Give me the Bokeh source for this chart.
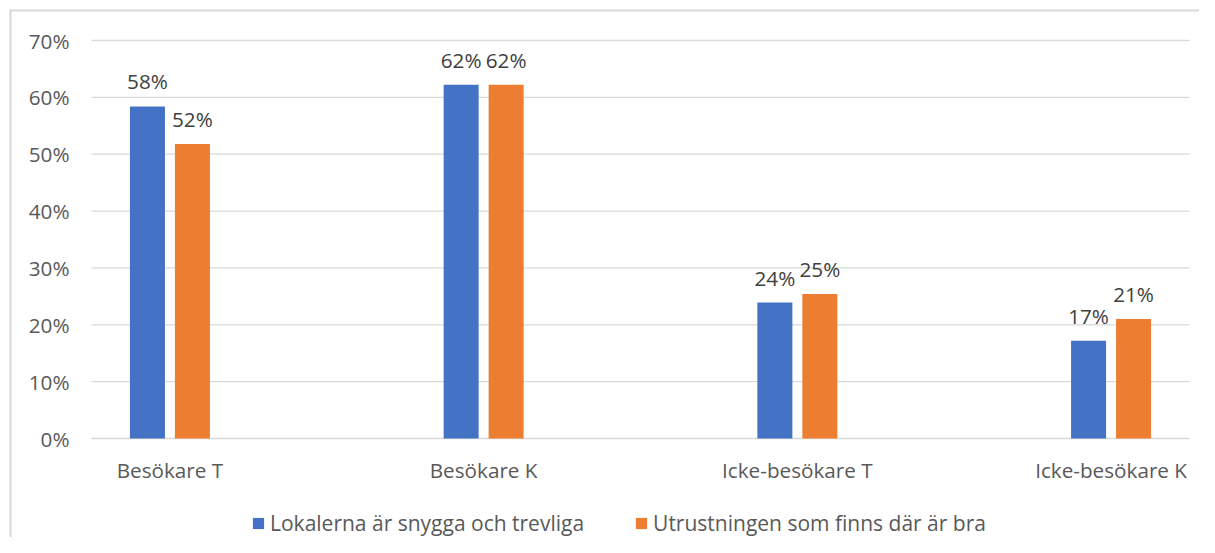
from bokeh.plotting import figure
from bokeh.models import (ColumnDataSource, Range1d, Legend, LegendItem, LabelSet, BoxAnnotation)
from bokeh.core.properties import value
from bokeh.embed import file_html
from bokeh.resources import INLINE

categories = ["Besökare T", "Besökare K", "Icke-besökare T", "Icke-besökare K"]
series_names = ["Lokalerna är snygga och trevliga", "Utrustningen som finns där är bra"]
lokalerna = [58.4, 62.2, 23.9, 17.2]
utrustningen = [51.8, 62.2, 25.4, 21.0]
y_ticks = [0, 10, 20, 30, 40, 50, 60, 70]
y_tick_labels = ["0%", "10%", "20%", "30%", "40%", "50%", "60%", "70%"]

FONT = "Open Sans"
FS = "20.7px"
BLUE = "#4472C4"
ORANGE = "#ED7D31"
GRID = "#D9D9D9"
TXT = "#595959"

# canvas and plot-area geometry (pixels)
W, H = 1199, 537
PA_L, PA_R, PA_T, PA_B = 91, 1189, 40, 438
x_lo, x_hi = -0.25, len(categories) - 0.75
y_lo, y_hi = 0, 70
sx = (PA_R - PA_L) / (x_hi - x_lo)
sy = (PA_B - PA_T) / (y_hi - y_lo)
x_start = x_lo - PA_L / sx
x_end = x_hi + (W - PA_R) / sx
y_end = y_hi + PA_T / sy
y_start = y_lo - (H - PA_B) / sy

p = figure(output_backend="svg", toolbar_location=None,
           frame_width=W, frame_height=H, width=W, height=H,
           min_border=0,
           x_range=Range1d(x_start, x_end), y_range=Range1d(y_start, y_end))
p.axis.visible = False
p.grid.visible = False
p.outline_line_color = None

# gridlines across the plot area
p.segment(x0=[x_lo] * len(y_ticks), x1=[x_hi] * len(y_ticks), y0=y_ticks, y1=y_ticks,
          line_color=GRID, line_width=1.3)

# y tick labels
src_y = ColumnDataSource(dict(x=[x_lo] * len(y_ticks), y=y_ticks, t=y_tick_labels))
p.add_layout(LabelSet(x="x", y="y", text="t", source=src_y, x_offset=-22,
                      text_align="right", text_baseline="middle",
                      text_font=value(FONT), text_font_size=value(FS), text_color=TXT))

xs = list(range(len(categories)))
offset = 0.0717
bw = 0.1116
src_a = ColumnDataSource(dict(x=[x - offset for x in xs], top=lokalerna,
                              lab=[f"{round(v)}%" for v in lokalerna]))
src_b = ColumnDataSource(dict(x=[x + offset for x in xs], top=utrustningen,
                              lab=[f"{round(v)}%" for v in utrustningen]))
src_c = ColumnDataSource(dict(x=xs, y=[y_lo] * len(xs), name=categories))

ra = p.vbar(x="x", top="top", bottom=y_lo, width=bw, source=src_a, fill_color=BLUE, line_color=None)
rb = p.vbar(x="x", top="top", bottom=y_lo, width=bw, source=src_b, fill_color=ORANGE, line_color=None)

for src in (src_a, src_b):
    p.add_layout(LabelSet(x="x", y="top", text="lab", source=src, y_offset=17,
                          text_align="center", text_baseline="alphabetic",
                          text_font=value(FONT), text_font_size=value(FS),
                          text_color="#404040"))

# category labels under the 0% line
p.add_layout(LabelSet(x="x", y="y", text="name", source=src_c, y_offset=-17,
                      text_align="center", text_baseline="top",
                      text_font=value(FONT), text_font_size=value(FS), text_color=TXT))

legend = Legend(items=[LegendItem(label=series_names[0], renderers=[ra]),
                       LegendItem(label=series_names[1], renderers=[rb])],
                orientation="horizontal", location=(251, 0),
                glyph_width=14, glyph_height=14, label_standoff=5, spacing=50,
                label_text_font=FONT, label_text_font_size="21px",
                label_text_color=TXT, border_line_color=None,
                background_fill_alpha=0, padding=2, margin=0)
p.add_layout(legend, "center")

# chart-area border: only its top and left edges fall inside the picture
bx0, bx1 = x_start + 9 / sx, x_start + 11 / sx
by0, by1 = y_end - 11 / sy, y_end - 9 / sy
p.add_layout(BoxAnnotation(left=bx0, right=x_end, top=by1, bottom=by0,
                           fill_color=GRID, fill_alpha=1, line_color=None))
p.add_layout(BoxAnnotation(left=bx0, right=bx1, top=by1, bottom=y_start,
                           fill_color=GRID, fill_alpha=1, line_color=None))

open("out.html", "w").write(file_html(p, INLINE))
